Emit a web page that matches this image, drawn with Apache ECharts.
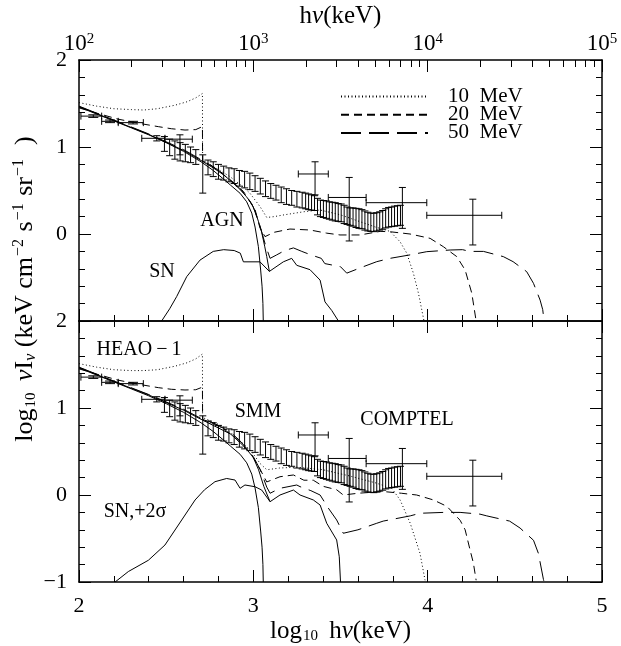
<!DOCTYPE html>
<html><head><meta charset="utf-8">
<script src="https://cdn.jsdelivr.net/npm/echarts@6/dist/echarts.min.js"></script>
<style>html,body{margin:0;padding:0;background:#fff}#c{width:621px;height:646px}</style>
</head><body><div id="c"></div>
<script>
// ---------------- data (log10 hν in keV, log10 νIν) ----------------
const decades = [2, 3, 4, 5];
const minorLogTicks = [2, 3, 4].flatMap(n => [2,3,4,5,6,7,8,9].map(k => n + Math.log10(k)));

// AGN model (same in both panels)
const agnX = [2.0, 2.1, 2.2, 2.3, 2.4, 2.5, 2.6, 2.7, 2.77, 2.83, 2.87, 2.924, 2.962, 2.991, 3.01, 3.029, 3.042, 3.05, 3.055, 3.057];
const agnY = [1.46, 1.38, 1.30, 1.22, 1.14, 1.05, 0.95, 0.83, 0.73, 0.63, 0.56, 0.468, 0.37, 0.24, 0.08, -0.146, -0.414, -0.6, -0.8, -1.0];

// top panel: SN, AGN+SN, totals with 10/20/50 MeV
const snX = [2.474, 2.52, 2.56, 2.618, 2.694, 2.77, 2.83, 2.89, 2.925, 2.943, 3.038, 3.092, 3.172, 3.22, 3.249, 3.325, 3.383, 3.411, 3.45, 3.488];
const snY = [-1.0, -0.86, -0.72, -0.49, -0.30, -0.20, -0.18, -0.19, -0.22, -0.32, -0.32, -0.43, -0.32, -0.28, -0.36, -0.41, -0.53, -0.78, -0.88, -1.0];
const sumX = [2.0, 2.2, 2.4, 2.6, 2.7, 2.77, 2.83, 2.87, 2.92, 2.96, 2.99, 3.01, 3.03, 3.048, 3.065, 3.077, 3.092];
const sumY = [1.465, 1.305, 1.145, 0.96, 0.845, 0.76, 0.68, 0.61, 0.52, 0.43, 0.35, 0.26, 0.14, 0.02, -0.14, -0.26, -0.43];
const m10X = [2.0, 2.1, 2.2, 2.3, 2.37, 2.45, 2.55, 2.62, 2.67, 2.708, 2.709, 2.75, 2.80, 2.866, 2.93, 2.98, 3.04, 3.077, 3.12, 3.17, 3.29, 3.383, 3.5, 3.6, 3.7, 3.784, 3.842, 3.88, 3.918, 3.947, 3.979];
const m10Y = [1.51, 1.47, 1.44, 1.43, 1.425, 1.44, 1.48, 1.52, 1.565, 1.615, 0.85, 0.80, 0.74, 0.66, 0.56, 0.47, 0.31, 0.19, 0.20, 0.218, 0.256, 0.276, 0.22, 0.15, 0.08, 0.03, -0.09, -0.22, -0.45, -0.68, -1.0];
const m20X = [2.0, 2.1, 2.225, 2.35, 2.455, 2.53, 2.608, 2.67, 2.708, 2.709, 2.75, 2.80, 2.866, 2.943, 3.01, 3.038, 3.067, 3.12, 3.21, 3.325, 3.42, 3.497, 3.612, 3.727, 3.784, 3.899, 4.014, 4.09, 4.167, 4.215, 4.253, 4.278];
const m20Y = [1.45, 1.39, 1.32, 1.27, 1.234, 1.21, 1.195, 1.20, 1.235, 0.84, 0.80, 0.73, 0.62, 0.49, 0.28, 0.07, -0.03, 0.02, 0.057, 0.046, 0.01, -0.011, -0.011, 0.03, 0.026, 0.0, -0.05, -0.146, -0.26, -0.414, -0.68, -1.0];
const m50X = [2.0, 2.2, 2.4, 2.6, 2.7, 2.77, 2.83, 2.87, 2.92, 2.96, 3.0, 3.04, 3.07, 3.096, 3.134, 3.18, 3.23, 3.278, 3.33, 3.39, 3.41, 3.46, 3.50, 3.536, 3.612, 3.708, 3.784, 3.899, 3.995, 4.129, 4.2, 4.24, 4.32, 4.434, 4.49, 4.568, 4.607, 4.645, 4.66, 4.668];
const m50Y = [1.47, 1.31, 1.15, 0.97, 0.855, 0.77, 0.69, 0.62, 0.53, 0.44, 0.31, 0.08, -0.13, -0.28, -0.24, -0.19, -0.16, -0.20, -0.24, -0.28, -0.34, -0.36, -0.376, -0.45, -0.39, -0.318, -0.28, -0.24, -0.203, -0.184, -0.18, -0.2, -0.2, -0.26, -0.318, -0.433, -0.567, -0.76, -0.87, -1.0];

// bottom panel: SN +2σ and corresponding totals
const sn2X = [2.207, 2.283, 2.398, 2.493, 2.57, 2.666, 2.72, 2.78, 2.847, 2.895, 2.924, 2.952, 3.01, 3.048, 3.096, 3.153, 3.23, 3.268, 3.344, 3.383, 3.421, 3.478, 3.493, 3.5];
const sn2Y = [-1.0, -0.88, -0.75, -0.575, -0.345, -0.057, 0.06, 0.153, 0.19, 0.172, 0.077, 0.115, 0.095, 0.057, -0.077, 0.0, 0.057, 0.0, -0.057, -0.115, -0.325, -0.517, -0.71, -1.0];
const sum2X = [2.0, 2.2, 2.4, 2.6, 2.7, 2.77, 2.83, 2.87, 2.92, 2.96, 3.0, 3.03, 3.06, 3.08, 3.096];
const sum2Y = [1.465, 1.305, 1.15, 0.975, 0.87, 0.80, 0.74, 0.70, 0.61, 0.53, 0.43, 0.29, 0.10, 0.0, -0.077];
const b10X = [2.0, 2.1, 2.2, 2.3, 2.37, 2.45, 2.55, 2.62, 2.67, 2.708, 2.709, 2.77, 2.83, 2.9, 2.96, 3.0, 3.04, 3.077, 3.15, 3.25, 3.4, 3.55, 3.7, 3.794, 3.842, 3.9, 3.956, 3.985];
const b10Y = [1.51, 1.47, 1.44, 1.43, 1.43, 1.44, 1.48, 1.52, 1.565, 1.62, 0.89, 0.84, 0.78, 0.66, 0.56, 0.47, 0.36, 0.29, 0.31, 0.32, 0.29, 0.22, 0.14, 0.077, -0.057, -0.325, -0.67, -0.98];
const b20X = [2.0, 2.1, 2.225, 2.35, 2.455, 2.53, 2.608, 2.67, 2.708, 2.709, 2.77, 2.83, 2.9, 2.96, 3.0, 3.04, 3.077, 3.153, 3.23, 3.29, 3.344, 3.4, 3.478, 3.516, 3.6, 3.745, 3.85, 3.937, 4.033, 4.11, 4.186, 4.215, 4.243, 4.262, 4.278];
const b20Y = [1.45, 1.39, 1.32, 1.27, 1.234, 1.215, 1.207, 1.21, 1.24, 0.87, 0.82, 0.76, 0.65, 0.53, 0.43, 0.29, 0.15, 0.21, 0.23, 0.17, 0.17, 0.10, 0.06, 0.0, 0.02, 0.04, 0.02, 0.0, -0.057, -0.13, -0.29, -0.40, -0.63, -0.78, -0.98];
const b50X = [2.0, 2.2, 2.4, 2.6, 2.7, 2.77, 2.83, 2.87, 2.92, 2.96, 3.0, 3.04, 3.077, 3.096, 3.153, 3.249, 3.268, 3.33, 3.383, 3.43, 3.478, 3.516, 3.6, 3.708, 3.745, 3.9, 3.956, 4.09, 4.186, 4.3, 4.339, 4.47, 4.53, 4.607, 4.635, 4.664, 4.668];
const b50Y = [1.47, 1.31, 1.155, 0.985, 0.88, 0.83, 0.765, 0.72, 0.63, 0.54, 0.44, 0.29, 0.09, 0.02, 0.077, 0.115, 0.096, 0.05, 0.0, -0.15, -0.287, -0.44, -0.40, -0.325, -0.30, -0.24, -0.21, -0.20, -0.2, -0.22, -0.24, -0.30, -0.38, -0.52, -0.67, -0.97, -1.0];

// HEAO-1 points
const heaoX   = [2.082, 2.178, 2.31];
const heaoXlo = [2.011, 2.13, 2.225];
const heaoXhi = [2.13, 2.225, 2.369];
const heaoY   = [1.355, 1.295, 1.28];
const heaoYlo = [1.34, 1.28, 1.265];
const heaoYhi = [1.37, 1.31, 1.295];
// wide low-energy points
const wideX   = [2.446, 2.579];
const wideXlo = [2.36, 2.493];
const wideXhi = [2.493, 2.65];
const wideY   = [1.10, 1.09];
const wideYlo = [1.07, 0.91];
const wideYhi = [1.13, 1.14];
// SMM band of error bars
const smmX  = [2.49, 2.52, 2.55, 2.58, 2.61, 2.64, 2.67, 2.71, 2.74, 2.77, 2.80, 2.83, 2.86, 2.89, 2.92, 2.95, 2.98, 3.01, 3.04, 3.07, 3.10, 3.13, 3.16, 3.19, 3.22, 3.25, 3.28, 3.30, 3.317, 3.334, 3.351, 3.368, 3.385, 3.402, 3.419, 3.436, 3.453, 3.47, 3.487, 3.504, 3.521, 3.538, 3.555, 3.572, 3.589, 3.606, 3.623, 3.64, 3.657, 3.674, 3.691, 3.708, 3.725, 3.742, 3.759, 3.776, 3.793, 3.81, 3.827, 3.844];
const smmLo = [0.95, 0.90, 0.86, 0.84, 0.83, 0.82, 0.80, 0.47, 0.68, 0.66, 0.63, 0.62, 0.60, 0.58, 0.55, 0.53, 0.51, 0.49, 0.46, 0.43, 0.41, 0.39, 0.36, 0.34, 0.33, 0.31, 0.30, 0.29, 0.28, 0.275, 0.27, 0.22, 0.20, 0.19, 0.18, 0.17, 0.16, 0.15, 0.145, 0.14, 0.12, 0.11, 0.10, 0.09, 0.075, 0.065, 0.06, 0.045, 0.035, 0.03, 0.027, 0.035, 0.045, 0.055, 0.07, 0.08, 0.085, 0.09, 0.095, 0.10];
const smmHi = [1.12, 1.09, 1.07, 1.05, 1.03, 1.00, 0.97, 0.91, 0.85, 0.83, 0.80, 0.78, 0.76, 0.75, 0.73, 0.72, 0.70, 0.67, 0.64, 0.61, 0.58, 0.56, 0.54, 0.52, 0.50, 0.49, 0.48, 0.47, 0.46, 0.45, 0.44, 0.41, 0.39, 0.385, 0.38, 0.37, 0.365, 0.36, 0.35, 0.345, 0.33, 0.31, 0.30, 0.30, 0.295, 0.29, 0.28, 0.265, 0.25, 0.24, 0.238, 0.245, 0.255, 0.27, 0.29, 0.305, 0.31, 0.32, 0.325, 0.33];
// COMPTEL points
const compX   = [3.354, 3.55, 3.855, 4.259];
const compXlo = [3.258, 3.43, 3.647, 3.995];
const compXhi = [3.43, 3.647, 3.995, 4.425];
const compY   = [0.69, 0.42, 0.36, 0.215];
const compYlo = [0.45, -0.08, 0.065, -0.126];
const compYhi = [0.83, 0.65, 0.535, 0.40];

// ---------------- chart ----------------
const SERIF = '"Liberation Serif", "DejaVu Serif", serif';
const pairs = (xs, ys) => xs.map((x, i) => [x, ys[i]]);
const errRows = (x, xl, xh, y, yl, yh) => x.map((v, i) => [v, xl[i], xh[i], y[i], yl[i], yh[i]]);
const DOT = [1, 2.5], DASH = [8, 5], LDASH = [20, 8];

function lineS(name, xs, ys, dash, panel) {
  return {
    type: 'line', name: name, data: pairs(xs, ys),
    xAxisIndex: panel === 0 ? 0 : 3, yAxisIndex: panel === 0 ? 0 : 2,
    symbol: 'none', silent: true, animation: false, z: 3,
    itemStyle: { color: '#000', opacity: 0 },
    lineStyle: { color: '#000', width: 1, type: dash }
  };
}
function errS(rows, panel, capW, capH) {
  return {
    type: 'custom', data: rows, silent: true, animation: false, z: 4,
    xAxisIndex: panel === 0 ? 0 : 3, yAxisIndex: panel === 0 ? 0 : 2,
    encode: { x: [0, 1, 2], y: [3, 4, 5] },
    renderItem: function (params, api) {
      const x = api.value(0), xl = api.value(1), xh = api.value(2);
      const y = api.value(3), yl = api.value(4), yh = api.value(5);
      const c = api.coord([x, y]);
      const t = api.coord([x, yh]), b = api.coord([x, yl]);
      const st = { stroke: '#000', lineWidth: 1, fill: null };
      const ch = [
        { type: 'line', shape: { x1: c[0], y1: t[1], x2: c[0], y2: b[1] }, style: st },
        { type: 'line', shape: { x1: c[0] - capW, y1: t[1], x2: c[0] + capW, y2: t[1] }, style: st },
        { type: 'line', shape: { x1: c[0] - capW, y1: b[1], x2: c[0] + capW, y2: b[1] }, style: st }
      ];
      if (xh > xl) {
        const l = api.coord([xl, y]), r = api.coord([xh, y]);
        ch.push({ type: 'line', shape: { x1: l[0], y1: c[1], x2: r[0], y2: c[1] }, style: st });
        ch.push({ type: 'line', shape: { x1: l[0], y1: c[1] - capH, x2: l[0], y2: c[1] + capH }, style: st });
        ch.push({ type: 'line', shape: { x1: r[0], y1: c[1] - capH, x2: r[0], y2: c[1] + capH }, style: st });
      }
      return { type: 'group', children: ch };
    }
  };
}

const axLine = { show: true, onZero: false, lineStyle: { color: '#000', width: 1.5 } };
const majTick = { show: true, inside: true, length: 12, lineStyle: { color: '#000', width: 1 } };
const minTick = { show: true, splitNumber: 5, length: 6, lineStyle: { color: '#000', width: 1 } };
const noLabel = { show: false };
const noSplit = { show: false };
const xBase = { type: 'value', min: 2, max: 5, interval: 1, axisLine: axLine, axisTick: majTick, minorTick: minTick, splitLine: noSplit, minorSplitLine: noSplit, axisLabel: noLabel };
const yBase = { type: 'value', min: -1, max: 2, interval: 1, axisLine: axLine, axisTick: majTick, minorTick: minTick, splitLine: noSplit, minorSplitLine: noSplit, axisLabel: noLabel };
const yLab = { show: true, color: '#000', fontFamily: SERIF, fontSize: 22, margin: 12,
  formatter: v => v < 0 ? '\u2212' + (-v) : String(v) };

const dataRowsHeao = errRows(heaoX, heaoXlo, heaoXhi, heaoY, heaoYlo, heaoYhi);
const dataRowsWide = errRows(wideX, wideXlo, wideXhi, wideY, wideYlo, wideYhi);
const dataRowsSmm = errRows(smmX, smmX, smmX, smmX.map((x, i) => (smmLo[i] + smmHi[i]) / 2), smmLo, smmHi);
const dataRowsComp = errRows(compX, compXlo, compXhi, compY, compYlo, compYhi);

const series = [];
[0, 1].forEach(p => {
  series.push(errS(dataRowsHeao, p, 5, 3.5));
  series.push(errS(dataRowsWide, p, 3.5, 3.5));
  series.push(errS(dataRowsSmm, p, 3.5, 3.5));
  series.push(errS(dataRowsComp, p, 3.5, 3.5));
});
series.push(lineS('AGN', agnX, agnY, 'solid', 0));
series.push(lineS('AGN+SN', sumX, sumY, 'solid', 0));
series.push(lineS('SN', snX, snY, 'solid', 0));
series.push(lineS('10  MeV', m10X, m10Y, DOT, 0));
series.push(lineS('20  MeV', m20X, m20Y, DASH, 0));
series.push(lineS('50  MeV', m50X, m50Y, LDASH, 0));
series.push(lineS('AGN', agnX, agnY, 'solid', 1));
series.push(lineS('AGN+SN2', sum2X, sum2Y, 'solid', 1));
series.push(lineS('SN2', sn2X, sn2Y, 'solid', 1));
series.push(lineS('10  MeV', b10X, b10Y, DOT, 1));
series.push(lineS('20  MeV', b20X, b20Y, DASH, 1));
series.push(lineS('50  MeV', b50X, b50Y, LDASH, 1));

const txt = (s, x, y) => ({ type: 'text', x: x, y: y, silent: true,
  style: { text: s, fontFamily: SERIF, fontSize: 20, fill: '#000', align: 'center', verticalAlign: 'middle' } });

const richBase = {
  t: { fontFamily: SERIF, fontSize: 25, lineHeight: 26 },
  i: { fontFamily: SERIF, fontSize: 25, lineHeight: 26, fontStyle: 'italic' },
  u: { fontFamily: SERIF, fontSize: 15, lineHeight: 15, verticalAlign: 'bottom', padding: [0, 5, 0, 1] }
};

const option = {
  animation: false,
  backgroundColor: '#fff',
  grid: [
    { left: 79, top: 60, width: 523, height: 261, outerBoundsMode: 'none', containLabel: false },
    { left: 79, top: 321, width: 523, height: 261, outerBoundsMode: 'none', containLabel: false }
  ],
  xAxis: [
    Object.assign({}, xBase, { gridIndex: 0, position: 'bottom' }),
    Object.assign({}, xBase, { gridIndex: 0, position: 'top', minorTick: { show: false },
      name: '{t|h}{i|\u03bd}{t|(keV)}', nameLocation: 'middle', nameGap: 31,
      nameTextStyle: { color: '#000', rich: richBase },
      axisLabel: { show: true, margin: 4, color: '#000', formatter: v => '{b|10}{s|' + v + '}',
        rich: { b: { fontFamily: SERIF, fontSize: 23, lineHeight: 24 }, s: { fontFamily: SERIF, fontSize: 15, lineHeight: 15, verticalAlign: 'top' } } } }),
    Object.assign({}, xBase, { gridIndex: 0, position: 'top', axisLine: { show: false, onZero: false },
      minorTick: { show: false },
      axisTick: { show: true, inside: true, length: 7, customValues: minorLogTicks, lineStyle: { color: '#000', width: 1 } } }),
    Object.assign({}, xBase, { gridIndex: 1, position: 'bottom',
      name: '{t|log}{u|10}{t| h}{i|\u03bd}{t|(keV)}', nameLocation: 'middle', nameGap: 36,
      nameTextStyle: { color: '#000', rich: richBase },
      axisLabel: { show: true, margin: 13, color: '#000', fontFamily: SERIF, fontSize: 22 } }),
    Object.assign({}, xBase, { gridIndex: 1, position: 'top' })
  ],
  yAxis: [
    Object.assign({}, yBase, { gridIndex: 0, position: 'left', axisLabel: Object.assign({}, yLab, { showMinLabel: false }) }),
    Object.assign({}, yBase, { gridIndex: 0, position: 'right' }),
    Object.assign({}, yBase, { gridIndex: 1, position: 'left', axisLabel: yLab }),
    Object.assign({}, yBase, { gridIndex: 1, position: 'right' })
  ],
  legend: {
    data: ['10  MeV', '20  MeV', '50  MeV'], orient: 'vertical', left: 340, top: 86, padding: 0,
    itemWidth: 87, itemHeight: 17, itemGap: -2.8, selectedMode: false,
    itemStyle: { opacity: 0 },
    textStyle: { color: '#000', fontFamily: SERIF, fontSize: 21, lineHeight: 17, padding: [0, 0, 0, 15] }
  },
  graphic: [
    txt('AGN', 222, 221), txt('SN', 162, 272),
    txt('HEAO\u2009\u2212\u20091', 139, 350), txt('SMM', 258, 412),
    txt('COMPTEL', 407, 420), txt('SN,+2\u03c3', 135, 512),
    { type: 'text', x: 25, y: 289, rotation: Math.PI / 2, silent: true,
      style: { text: '{t|log}{u|10}{t| }{i|\u03bd}{t|I}{v|\u03bd}{t| (keV cm}{p|\u22122}{t| s}{p|\u22121}{t| sr}{p|\u22121}{t|  )}',
        align: 'center', verticalAlign: 'middle', fill: '#000',
        rich: { t: { fontFamily: SERIF, fontSize: 26, lineHeight: 28 },
                i: { fontFamily: SERIF, fontSize: 26, lineHeight: 28, fontStyle: 'italic' },
                u: { fontFamily: SERIF, fontSize: 15, lineHeight: 15, verticalAlign: 'bottom', padding: [0, 5, 0, 1] },
                v: { fontFamily: SERIF, fontSize: 16, lineHeight: 16, verticalAlign: 'bottom', fontStyle: 'italic' },
                p: { fontFamily: SERIF, fontSize: 16, lineHeight: 16, verticalAlign: 'top', padding: [0, 1, 0, 1] } } } }
  ],
  series: series
};
const chart = echarts.init(document.getElementById('c'), null, { renderer: 'canvas' });
chart.setOption(option);
</script>
</body></html>
